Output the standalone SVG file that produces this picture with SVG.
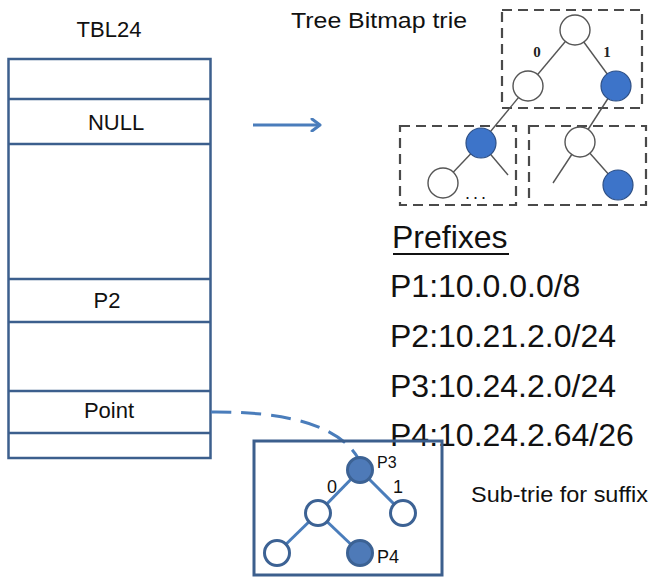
<svg xmlns="http://www.w3.org/2000/svg" width="661" height="578" viewBox="0 0 661 578">
<defs>
<style>
.t{font-family:"Liberation Sans",Arial,sans-serif;fill:#111}
.tbl{fill:#fff;stroke:#3c5f8d;stroke-width:2.5}
.row{stroke:#3c5f8d;stroke-width:2.5}
.dash{fill:none;stroke:#4a4a4a;stroke-width:2.2;stroke-dasharray:10 6}
.tl{stroke:#555;stroke-width:1.4;fill:none}
.wn{fill:#fff;stroke:#555;stroke-width:1.4}
.bn{fill:#3d74c9;stroke:#2d4f85;stroke-width:1.2}
.sl{stroke:#4a7dbb;stroke-width:3;fill:none}
.swn{fill:#fff;stroke:#3c6294;stroke-width:3}
.sbn{fill:#4e7ab8;stroke:#3c6294;stroke-width:3}
.bl{font-family:"Liberation Serif","Times New Roman",serif;font-weight:bold;font-size:15px;fill:#222}
</style>
<marker id="chev" viewBox="0 0 12 14" refX="10" refY="7" markerWidth="12" markerHeight="14" markerUnits="userSpaceOnUse" orient="auto">
<path d="M2,1 L10,7 L2,13" fill="none" stroke="#4a7dbb" stroke-width="3" stroke-linecap="round" stroke-linejoin="round"/>
</marker>
</defs>

<g id="tbl24">
<text class="t" x="109" y="37" font-size="22" text-anchor="middle">TBL24</text>
<rect class="tbl" x="8.5" y="59" width="202" height="399"/>
<line class="row" x1="8.5" y1="99" x2="210.5" y2="99"/>
<line class="row" x1="8.5" y1="144" x2="210.5" y2="144"/>
<line class="row" x1="8.5" y1="279" x2="210.5" y2="279"/>
<line class="row" x1="8.5" y1="322" x2="210.5" y2="322"/>
<line class="row" x1="8.5" y1="391" x2="210.5" y2="391"/>
<line class="row" x1="8.5" y1="433" x2="210.5" y2="433"/>
<text class="t" x="116" y="130" font-size="22" text-anchor="middle">NULL</text>
<text class="t" x="107" y="308" font-size="22" text-anchor="middle">P2</text>
<text class="t" x="109" y="418" font-size="22" text-anchor="middle">Point</text>
</g>

<g id="connectors">
<line x1="253" y1="125" x2="320" y2="125" stroke="#4a7dbb" stroke-width="3" marker-end="url(#chev)"/>
<path d="M211,412 Q330,411 358,458" fill="none" stroke="#4a7dbb" stroke-width="3" stroke-dasharray="20 10"/>
</g>

<g id="tree-bitmap-trie">
<text class="t" x="291" y="28" font-size="22" textLength="176" lengthAdjust="spacingAndGlyphs">Tree Bitmap trie</text>
<rect class="dash" x="502" y="10" width="140" height="98"/>
<rect class="dash" x="400" y="126" width="116" height="79"/>
<rect class="dash" x="529" y="126" width="117" height="79"/>
<line class="tl" x1="575" y1="30" x2="528" y2="86"/>
<line class="tl" x1="575" y1="30" x2="616" y2="86"/>
<line class="tl" x1="528" y1="86" x2="481" y2="143"/>
<line class="tl" x1="616" y1="86" x2="580" y2="142"/>
<line class="tl" x1="481" y1="143" x2="443" y2="183"/>
<line class="tl" x1="481" y1="143" x2="508" y2="175"/>
<line class="tl" x1="580" y1="142" x2="553" y2="183"/>
<line class="tl" x1="580" y1="142" x2="618" y2="185"/>
<circle class="wn" cx="575" cy="30" r="15"/>
<circle class="wn" cx="528" cy="86" r="15"/>
<circle class="bn" cx="616" cy="86" r="15"/>
<circle class="bn" cx="481" cy="143" r="15"/>
<circle class="wn" cx="443" cy="183" r="15"/>
<circle class="wn" cx="580" cy="142" r="15"/>
<circle class="bn" cx="618" cy="185" r="15"/>
<text class="bl" x="537" y="57" text-anchor="middle">0</text>
<text class="bl" x="607" y="57" text-anchor="middle">1</text>
<text class="t" x="477" y="199" font-size="18" text-anchor="middle" letter-spacing="3">...</text>
</g>

<g id="prefixes">
<text class="t" x="392" y="248" font-size="32">Prefixes</text>
<line x1="393" y1="254" x2="509" y2="254" stroke="#111" stroke-width="2"/>
<text class="t" x="390" y="297" font-size="32">P1:10.0.0.0/8</text>
<text class="t" x="390" y="347" font-size="32">P2:10.21.2.0/24</text>
<text class="t" x="390" y="397" font-size="32">P3:10.24.2.0/24</text>
<text class="t" x="390" y="446" font-size="32">P4:10.24.2.64/26</text>
</g>

<g id="sub-trie">
<rect x="254" y="441" width="188" height="134" fill="none" stroke="#3c5f8d" stroke-width="3"/>
<line class="sl" x1="360" y1="470" x2="318" y2="513"/>
<line class="sl" x1="360" y1="470" x2="403" y2="513"/>
<line class="sl" x1="318" y1="513" x2="277" y2="553"/>
<line class="sl" x1="318" y1="513" x2="360" y2="553"/>
<circle class="sbn" cx="360" cy="470" r="12.5"/>
<circle class="swn" cx="318" cy="513" r="12.5"/>
<circle class="swn" cx="403" cy="513" r="12.5"/>
<circle class="swn" cx="277" cy="553" r="12.5"/>
<circle class="sbn" cx="360" cy="553" r="12.5"/>
<text class="t" x="377" y="468" font-size="16">P3</text>
<text class="t" x="377" y="563" font-size="18">P4</text>
<text class="t" x="332" y="493" font-size="18" text-anchor="middle" fill="#3a2a18">0</text>
<text class="t" x="398" y="493" font-size="18" text-anchor="middle">1</text>
</g>

<g id="sub-trie-label">
<text class="t" x="471" y="502" font-size="22" textLength="177" lengthAdjust="spacingAndGlyphs">Sub-trie for suffix</text>
</g>
</svg>
